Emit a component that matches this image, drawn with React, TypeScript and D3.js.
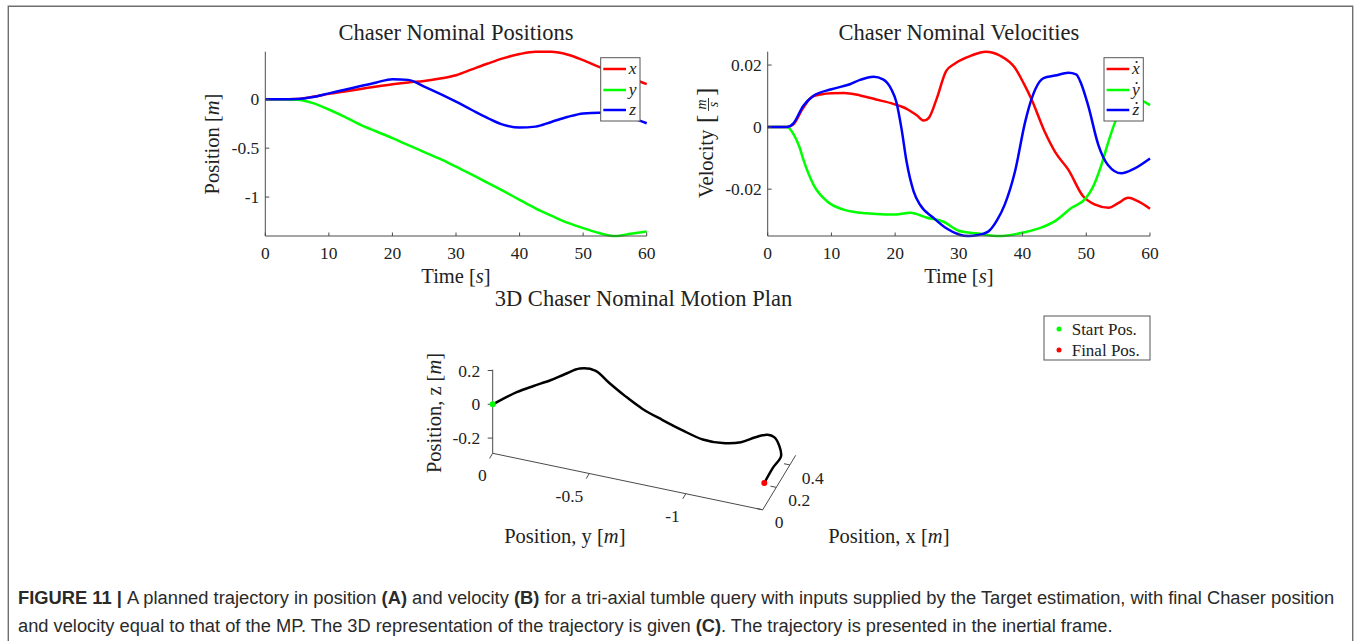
import * as d3 from "d3";
import React, { useLayoutEffect, useRef, useState } from "react";

// Datos: tiempo común para las posiciones (s)
const tiempo = [0, 2.5, 5, 7.5, 10, 12.5, 15, 17.5, 20, 22.5, 25, 27.5, 30, 32.5, 35, 37.5, 40, 42.5, 45, 47.5, 50, 52.5, 55, 57.5, 60];
const posX = [0, 0, 0.003, 0.025, 0.055, 0.08, 0.105, 0.13, 0.153, 0.172, 0.186, 0.212, 0.245, 0.305, 0.365, 0.42, 0.462, 0.486, 0.485, 0.458, 0.4, 0.33, 0.27, 0.215, 0.155];
const posY = [0, 0, -0.005, -0.04, -0.105, -0.18, -0.262, -0.33, -0.398, -0.47, -0.54, -0.61, -0.69, -0.77, -0.855, -0.94, -1.028, -1.115, -1.19, -1.262, -1.317, -1.368, -1.398, -1.375, -1.352];
const posZ = [0, 0, 0.002, 0.022, 0.06, 0.097, 0.135, 0.172, 0.205, 0.198, 0.13, 0.055, -0.025, -0.11, -0.192, -0.262, -0.29, -0.28, -0.232, -0.182, -0.145, -0.138, -0.152, -0.19, -0.245];

// Velocidades como pares [t, v] (m/s)
const velX: [number, number][] = [[0, 0], [3, 0], [4, 0.0008], [5.5, 0.006], [7, 0.0098], [8.5, 0.0106], [10, 0.0109], [12, 0.011], [14.5, 0.0102], [17, 0.0089], [19.7, 0.0075], [21.8, 0.0059], [23.4, 0.0038], [24.5, 0.0021], [25.3, 0.003], [26.5, 0.009], [28, 0.018], [29.4, 0.0205], [32, 0.0231], [34.2, 0.0243], [36.5, 0.023], [38.8, 0.0191], [40.2, 0.014], [41.4, 0.009], [43.5, -0.0016], [45.1, -0.008], [47.2, -0.0138], [49.5, -0.0223], [51.4, -0.025], [53.5, -0.026], [55, -0.0245], [56.6, -0.0228], [58, -0.0238], [60, -0.0263]];
const velY: [number, number][] = [[0, 0], [3, 0], [4, -0.0021], [5, -0.0065], [5.6, -0.0105], [7.2, -0.0186], [9.3, -0.0239], [11.9, -0.0266], [14.5, -0.0276], [17, -0.028], [19.7, -0.0282], [22.4, -0.0276], [25, -0.0292], [27.6, -0.0305], [30, -0.0334], [33, -0.0343], [36.2, -0.0351], [40.5, -0.0338], [42.9, -0.0324], [45.1, -0.0303], [47.7, -0.026], [49.8, -0.0232], [51, -0.0195], [52.4, -0.012], [53.5, -0.0045], [54.6, 0.002], [56, 0.0075], [57.5, 0.0092], [60, 0.0071]];
const velZ: [number, number][] = [[0, 0], [3, 0], [4, 0.0011], [5.6, 0.0069], [7.2, 0.0101], [10, 0.0122], [12.9, 0.0138], [14.5, 0.0152], [16.6, 0.0162], [18.1, 0.0154], [19.4, 0.0122], [20.2, 0.008], [21, -0.0005], [21.8, -0.0112], [22.9, -0.0207], [23.9, -0.025], [26, -0.0292], [28.1, -0.0327], [30, -0.0346], [31.5, -0.0351], [33, -0.0348], [34.6, -0.0337], [36, -0.03], [37.2, -0.025], [38.8, -0.0144], [40.4, 0.0016], [41.4, 0.009], [42, 0.0122], [43.3, 0.0158], [45.1, 0.0166], [47.2, 0.0175], [48.4, 0.017], [49.2, 0.014], [50.3, 0.0069], [51.9, -0.0058], [53.4, -0.0122], [55.5, -0.0149], [57.6, -0.0133], [60, -0.0101]];

const ticksTiempo = [0, 10, 20, 30, 40, 50, 60];
const ticksPos = [-1, -0.5, 0];
const ticksVel = [-0.02, 0, 0.02];
const ticks3dX = [0, 0.2, 0.4];
const ticks3dY = [0, -0.5, -1];
const ticks3dZ = [-0.2, 0, 0.2];
const etiquetas = ["x", "y", "z"];
const colores = ["#ff0000", "#00ff00", "#0000ff"];

const serif = "'Liberation Serif', 'Times New Roman', serif";
const ejeColor = "#4a4a4a";

function Panel(props: any) {
  const { left, right, top, bottom, series, yTicks, title, ylabel, puntos } = props;
  const x = d3.scaleLinear().domain([0, 60]).range([left, right]);
  const all = series.flatMap((s: [number, number][]) => s.map((d) => d[1]));
  const y = d3.scaleLinear().domain(d3.extent(all) as [number, number]).range([bottom, top]);
  const line = d3
    .line<[number, number]>()
    .x((d) => x(d[0]))
    .y((d) => y(d[1]))
    .curve(d3.curveMonotoneX);
  const lx = right - 46;
  const filas = [top + 17.3, top + 38.3, top + 58.3];
  return (
    <g fontFamily={serif} fill="#222">
      <text x={(left + right) / 2} y={40} textAnchor="middle" fontSize={22.5}>{title}</text>
      {series.map((s: [number, number][], i: number) => (
        <path key={i} d={line(s) || ""} fill="none" stroke={colores[i]} strokeWidth={2.5} />
      ))}
      <line x1={left} x2={left} y1={top} y2={bottom} stroke={ejeColor} strokeWidth={1} />
      <line x1={left} x2={right} y1={bottom} y2={bottom} stroke={ejeColor} strokeWidth={1} />
      {ticksTiempo.map((t) => (
        <g key={t}>
          <line x1={x(t)} x2={x(t)} y1={bottom} y2={bottom - 3.5} stroke={ejeColor} />
          <text x={x(t)} y={259} textAnchor="middle" fontSize={17.5}>{t}</text>
        </g>
      ))}
      {yTicks.map((v: number) => (
        <g key={v}>
          <line x1={left} x2={left + 4} y1={y(v)} y2={y(v)} stroke={ejeColor} />
          <text x={left - 6} y={y(v)} dy="0.35em" textAnchor="end" fontSize={17.5}>{String(v)}</text>
        </g>
      ))}
      <text x={(left + right) / 2} y={283} textAnchor="middle" fontSize={20.5}>
        Time [<tspan fontStyle="italic">s</tspan>]
      </text>
      {ylabel}
      <rect x={lx} y={top + 6} width={39.3} height={63.3} fill="#fff" stroke="#555" strokeWidth={1} />
      {etiquetas.map((e, i) => (
        <g key={e}>
          <line x1={lx + 2.6} x2={lx + 25.3} y1={filas[i]} y2={filas[i]} stroke={colores[i]} strokeWidth={2.5} />
          <text x={lx + 32} y={filas[i] + 4.5} textAnchor="middle" fontSize={17.5} fontStyle="italic">{e}</text>
          {puntos && <circle cx={lx + 32.6} cy={filas[i] - 7} r={1.1} fill="#222" />}
        </g>
      ))}
    </g>
  );
}

function Trayectoria3D() {
  const xExt = d3.extent(posX) as [number, number];
  const yExt = d3.extent(posY) as [number, number];
  const zExt = d3.extent(posZ) as [number, number];
  const ox = 492.7;
  const oy = 453.3;
  const vy = [270, 56.5];
  const vx = [33, -54.5];
  const fx = d3.scaleLinear().domain(xExt).range([0, 1]);
  const fy = d3.scaleLinear().domain([yExt[1], yExt[0]]).range([0, 1]);
  const zPx = d3.scaleLinear().domain(zExt).range([0, -169 * (zExt[1] - zExt[0])]);
  const proj = (x: number, y: number, z: number): [number, number] => [
    ox + fy(y) * vy[0] + fx(x) * vx[0],
    oy + zPx(z) + fy(y) * vy[1] + fx(x) * vx[1],
  ];
  const pts = tiempo.map((_, i) => proj(posX[i], posY[i], posZ[i]));
  const line = d3.line().curve(d3.curveCatmullRom.alpha(0.5));
  const c0 = proj(0, yExt[1], zExt[0]);
  const zTop = proj(0, yExt[1], zExt[1]);
  const yEnd = proj(0, yExt[0], zExt[0]);
  const xEnd = proj(xExt[1], yExt[0], zExt[0]);
  const nx = Math.hypot(vx[0], vx[1]);
  const ny = Math.hypot(vy[0], vy[1]);
  const inicio = pts[0];
  const fin = pts[pts.length - 1];
  return (
    <g fontFamily={serif} fill="#222">
      <text x={643.5} y={306} textAnchor="middle" fontSize={22.5}>3D Chaser Nominal Motion Plan</text>
      <line x1={c0[0]} y1={c0[1]} x2={zTop[0]} y2={zTop[1]} stroke={ejeColor} />
      <line x1={c0[0]} y1={c0[1]} x2={yEnd[0]} y2={yEnd[1]} stroke={ejeColor} />
      <line x1={yEnd[0]} y1={yEnd[1]} x2={xEnd[0]} y2={xEnd[1]} stroke={ejeColor} />
      {ticks3dZ.map((v) => {
        const p = proj(0, yExt[1], v);
        return (
          <g key={v}>
            <line x1={p[0]} x2={p[0] - 5} y1={p[1]} y2={p[1]} stroke={ejeColor} />
            <text x={p[0] - 12.5} y={p[1]} dy="0.35em" textAnchor="end" fontSize={17.5}>{String(v)}</text>
          </g>
        );
      })}
      {ticks3dY.map((v) => {
        const p = proj(0, v, zExt[0]);
        return (
          <g key={v}>
            <line x1={p[0]} y1={p[1]} x2={p[0] - (vx[0] / nx) * 6} y2={p[1] - (vx[1] / nx) * 6} stroke={ejeColor} />
            <text x={p[0] - 6} y={p[1] + 22} dy="0.35em" textAnchor="end" fontSize={17.5}>{String(v)}</text>
          </g>
        );
      })}
      {ticks3dX.map((v) => {
        const p = proj(v, yExt[0], zExt[0]);
        return (
          <g key={v}>
            <line x1={p[0]} y1={p[1]} x2={p[0] - (vy[0] / ny) * 6} y2={p[1] - (vy[1] / ny) * 6} stroke={ejeColor} />
            <text x={p[0] + 12} y={p[1] + 12.5} dy="0.35em" textAnchor="start" fontSize={17.5}>{String(v)}</text>
          </g>
        );
      })}
      <path d={line(pts) || ""} fill="none" stroke="#000" strokeWidth={2.5} />
      <circle cx={inicio[0]} cy={inicio[1]} r={3} fill="#00ff00" />
      <circle cx={fin[0]} cy={fin[1]} r={3} fill="#ff0000" />
      <text x={564.8} y={543.3} textAnchor="middle" fontSize={20.5}>
        Position, y [<tspan fontStyle="italic">m</tspan>]
      </text>
      <text x={888.8} y={543.3} textAnchor="middle" fontSize={20.5}>
        Position, x [<tspan fontStyle="italic">m</tspan>]
      </text>
      <text transform="translate(441,413) rotate(-90)" textAnchor="middle" fontSize={20.5}>
        Position, z [<tspan fontStyle="italic">m</tspan>]
      </text>
      <rect x={1044} y={316} width={106} height={44} fill="#fff" stroke="#555" />
      <circle cx={1059} cy={329} r={2.5} fill="#00ff00" />
      <circle cx={1059} cy={350} r={2.5} fill="#ff0000" />
      <text x={1071.7} y={334.5} fontSize={17}>Start Pos.</text>
      <text x={1071.7} y={355.5} fontSize={17}>Final Pos.</text>
    </g>
  );
}

export default function App() {
  const seriesPos = [posX, posY, posZ].map((s) => s.map((v, i) => [tiempo[i], v] as [number, number]));
  const seriesVel = [velX, velY, velZ];

  // Escala horizontal del pie de figura para que ocupe el mismo ancho que en la imagen
  const linea1 = useRef<SVGTextElement>(null);
  const linea2 = useRef<SVGTextElement>(null);
  const [escala, setEscala] = useState([1, 1]);
  useLayoutEffect(() => {
    const l1 = linea1.current ? linea1.current.getComputedTextLength() : 0;
    const l2 = linea2.current ? linea2.current.getComputedTextLength() : 0;
    if (l1 > 0 && l2 > 0) setEscala([1317 / l1, 1096 / l2]);
  }, []);

  const ylabelPos = (
    <text transform="translate(219,144) rotate(-90)" textAnchor="middle" fontSize={20.5}>
      Position [<tspan fontStyle="italic">m</tspan>]
    </text>
  );
  const ylabelVel = (
    <g transform="translate(707,145) rotate(-90)" fontSize={20.5}>
      <text x={-53} y={6}>Velocity</text>
      <text x={22} y={7} fontSize={25}>[</text>
      <text x={40.5} y={-1} textAnchor="middle" fontSize={14} fontStyle="italic">m</text>
      <line x1={34} x2={47} y1={1.5} y2={1.5} stroke="#222" strokeWidth={0.9} />
      <text x={40.5} y={11} textAnchor="middle" fontSize={14} fontStyle="italic">s</text>
      <text x={49} y={7} fontSize={25}>]</text>
    </g>
  );

  const sans = "'Liberation Sans', Arial, sans-serif";

  return (
    <svg
      width={1356}
      height={641}
      style={{ position: "absolute", left: 0, top: 0, background: "#fff" }}
    >
      <path d="M8.3,660 V6.3 H1352.7 V660" fill="none" stroke="#6e6e6e" strokeWidth={1.4} />
      <Panel
        left={265.3}
        right={646.7}
        top={51.7}
        bottom={236}
        series={seriesPos}
        yTicks={ticksPos}
        title="Chaser Nominal Positions"
        ylabel={ylabelPos}
        puntos={false}
      />
      <Panel
        left={767.7}
        right={1150}
        top={51.7}
        bottom={236}
        series={seriesVel}
        yTicks={ticksVel}
        title="Chaser Nominal Velocities"
        ylabel={ylabelVel}
        puntos={true}
      />
      <Trayectoria3D />
      <g fontFamily={sans} fontSize={19} fill="#2a2a2a">
        <text ref={linea1} transform={`translate(18,604) scale(${escala[0]},1)`}>
          <tspan fontWeight="bold">FIGURE 11 | </tspan>A planned trajectory in position <tspan fontWeight="bold">(A)</tspan> and velocity{" "}
          <tspan fontWeight="bold">(B)</tspan> for a tri-axial tumble query with inputs supplied by the Target estimation, with final Chaser position
        </text>
        <text ref={linea2} transform={`translate(18,632) scale(${escala[1]},1)`}>
          and velocity equal to that of the MP. The 3D representation of the trajectory is given <tspan fontWeight="bold">(C)</tspan>. The trajectory is presented in the inertial frame.
        </text>
      </g>
    </svg>
  );
}
